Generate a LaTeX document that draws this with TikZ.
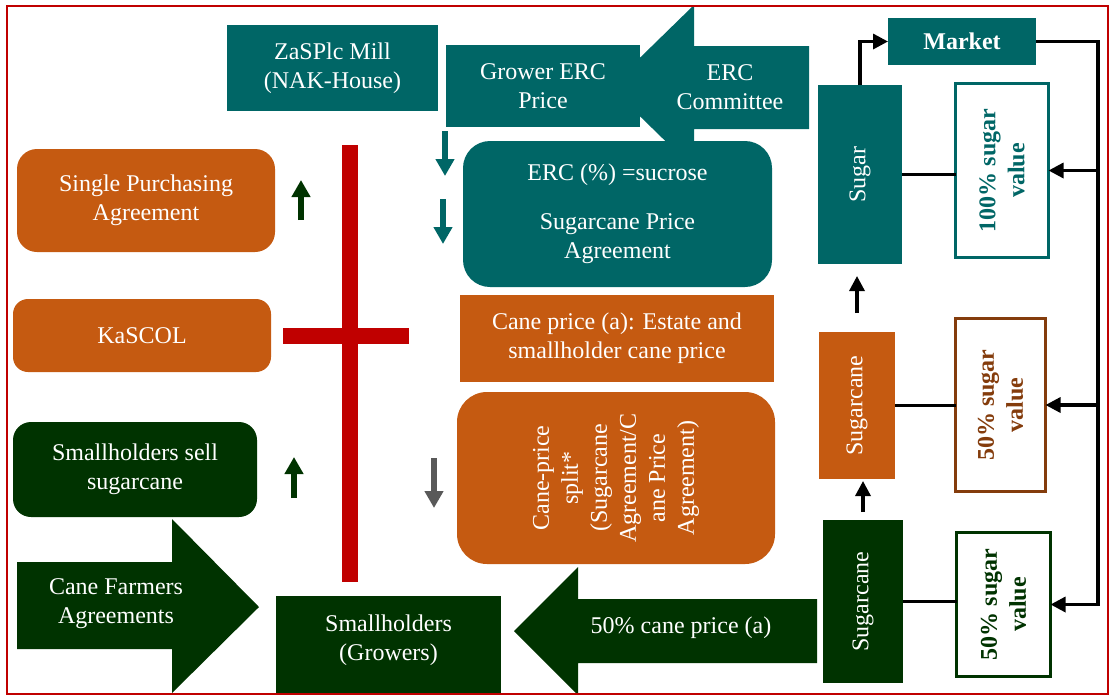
\documentclass[tikz,border=0pt]{standalone}
\usepackage{fontspec}
\setmainfont{Liberation Serif}
\usetikzlibrary{arrows.meta}
\definecolor{tealc}{HTML}{006666}
\definecolor{orangec}{HTML}{C55A11}
\definecolor{greenc}{HTML}{003300}
\definecolor{redc}{HTML}{C00000}
\definecolor{brownc}{HTML}{843C0C}
\definecolor{greyc}{HTML}{595959}
\begin{document}
\begin{tikzpicture}[x=1pt,y=-1pt,
  sz/.style 2 args={minimum width=#1pt, minimum height=#2pt},
  base/.style={inner sep=2pt, outer sep=0pt, align=center, text=white,
    font=\fontsize{24}{29}\selectfont},
  tbox/.style={base, fill=tealc},
  obox/.style={base, fill=orangec},
  gbox/.style={base, fill=greenc},
  lbl/.style={base, fill=none},
  vbox/.style={base, draw=#1, text=#1, fill=white, line width=3pt,
    font=\fontsize{24}{29}\selectfont\bfseries},
  ln/.style={line width=3.3pt, black},
  tip/.style={-{Triangle[length=15pt,width=15pt]}},
  blk/.style={line width=6pt, -{Triangle[length=17pt,width=18pt]}}
]
\useasboundingbox (0,0) rectangle (1110,697);

% ERC committee block arrow pointing left
\fill[tealc] (809,46) -- (694,46) -- (694,5) -- (610,87) -- (694,169)
  -- (694,129) -- (809,129) -- cycle;
\node[lbl] (ercc) at (730,87) {ERC\\Committee};

% top teal boxes
\node[tbox, sz={211}{86}] (mill) at (332.5,68) {ZaSPlc Mill\\(NAK-House)};
\node[tbox, sz={194}{82}] (grower) at (543,86) {Grower ERC\\Price};
\node[tbox, rounded corners=27pt, sz={309}{146}] (erc) at (617.5,214)
  {ERC (\%) =sucrose\\[20pt]Sugarcane Price\\Agreement};

% orange price boxes
\node[obox, sz={314}{87}] (caneprice) at (617,338.5)
  {Cane price (a): Estate and\\smallholder cane price};
\node[obox, rounded corners=30pt, rotate=90, sz={172}{318}] (split) at (616,478)
  {Cane-price\\split*\\(Sugarcane\\Agreement/C\\ane Price\\Agreement)};

% left column
\node[obox, rounded corners=20pt, sz={258}{103}] (spa) at (146,200.5)
  {Single Purchasing\\Agreement};
\node[obox, rounded corners=15pt, sz={258}{73}] (kascol) at (142,335.5) {KaSCOL};
\node[gbox, rounded corners=18pt, sz={244}{95}] (sell) at (135,469.5)
  {Smallholders sell\\sugarcane};

% cane farmers block arrow pointing right
\fill[greenc] (17,562) -- (172,562) -- (172,519) -- (259,607) -- (172,693)
  -- (172,649) -- (17,649) -- cycle;
\node[lbl] (farmers) at (116,604) {Cane Farmers\\Agreements};

\node[gbox, sz={225}{97}] (growers) at (388.5,644.5) {};
\node[lbl] (growerstext) at (388.5,640) {Smallholders\\(Growers)};

% 50% cane price block arrow pointing left
\fill[greenc] (817,599) -- (578,599) -- (578,567) -- (514,631) -- (578,695)
  -- (578,663) -- (817,663) -- cycle;
\node[lbl] (halfprice) at (681,628) {50\% cane price (a)};

% red cross
\fill[redc] (342,145) rectangle (358,582);
\fill[redc] (283,328) rectangle (409,344);

% small block arrows
\draw[blk, greenc] (301,220) -- (301,180);
\draw[blk, greenc] (294,498) -- (294,457);
\draw[blk, tealc] (445,131) -- (445,176);
\draw[blk, tealc] (443,199) -- (443,244);
\draw[blk, greyc] (434,458) -- (434,508);

% right column: product boxes
\node[gbox, rotate=90, sz={163}{80}] (cane1) at (863,601.5) {Sugarcane};
\node[obox, rotate=90, sz={147}{76}] (cane2) at (857,405.5) {Sugarcane};
\node[tbox, rotate=90, sz={179}{84}] (sugar) at (860,174.5) {Sugar};
\node[tbox, sz={148}{47}, font=\fontsize{24}{29}\selectfont\bfseries] (market)
  at (962,41.5) {Market};

% value boxes
\node[vbox=tealc, rotate=90, sz={174}{93}] (v100) at (1002,170.5) {100\% sugar\\value};
\node[vbox=brownc, rotate=90, sz={173}{90}] (v50a) at (1000.5,405) {50\% sugar\\value};
\node[vbox=greenc, rotate=90, sz={144}{94}] (v50b) at (1003.5,604.5) {50\% sugar\\value};

% connectors
\draw[ln] (sugar.south) -- (sugar.south -| v100.north);
\draw[ln] (cane2.south) -- (cane2.south -| v50a.north);
\draw[ln] (cane1.south) -- (cane1.south -| v50b.north);
\draw[ln, tip] (sugar.east) |- (market.west);
\draw[ln, tip, shorten <=19pt, shorten >=12pt] (cane2.east) -- (cane2.east |- sugar.west);
\draw[ln, tip, shorten <=8pt, shorten >=2pt] (cane1.east) -- (cane1.east |- cane2.west);

\coordinate (bus) at (1098,41.5);
\draw[ln, tip] (market.east) -- (bus) -- (bus |- v50b.south) -- (v50b.south);
\draw[ln, tip] (bus |- v100.south) -- (v100.south);
\draw[ln, tip] (bus |- v50a.south) -- (v50a.south);

% frame
\draw[redc, line width=2pt] (7,6) rectangle (1108,694);
\end{tikzpicture}
\end{document}
